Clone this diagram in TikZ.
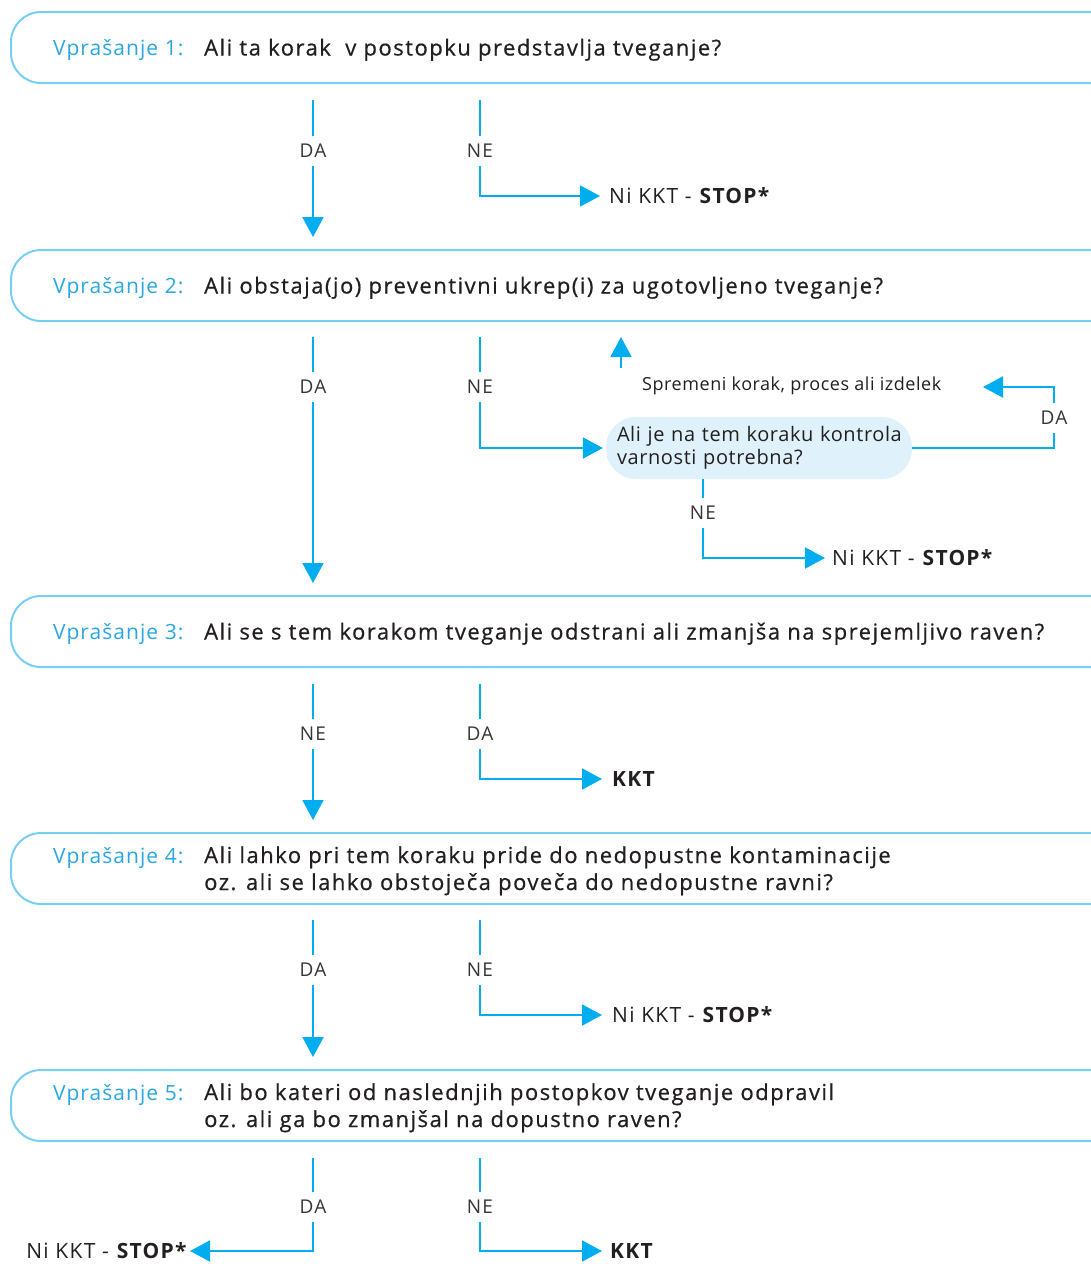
\documentclass[tikz,border=0pt]{standalone}
\usepackage{fontspec}
\setmainfont{Open Sans}
\newfontfamily\qfam[LetterSpace=6.8,FakeBold=0.6]{Open Sans}
\newfontfamily\numfam[LetterSpace=5]{Open Sans}
\newfontfamily\labfam[LetterSpace=6]{Open Sans}
\newfontfamily\chkfam[LetterSpace=3]{Open Sans}
\usetikzlibrary{arrows.meta,positioning,calc}
\definecolor{boxline}{HTML}{78CFF5}
\definecolor{flowblue}{HTML}{00AEEF}
\definecolor{numblue}{HTML}{2AA7E1}
\definecolor{txtgrey}{HTML}{231F20}
\definecolor{checkfill}{HTML}{DFF2FB}
\tikzset{
    qbox/.style={draw=boxline,line width=2pt,rounded corners=30pt,minimum width=1110pt,minimum height=71pt,anchor=west},
    qnum/.style={text=numblue,anchor=base west,font=\numfam\fontsize{21}{27}\selectfont},
    qtext/.style={text=txtgrey,anchor=base west,align=left,font=\qfam\fontsize{22}{27}\selectfont},
    flow/.style={draw=flowblue,line width=2pt},
    arr/.style={flow,-{Triangle[length=20pt,width=21pt]}},
    ans/.style={fill=white,text=txtgrey!90,inner xsep=2pt,inner ysep=8pt,font=\labfam\fontsize{19}{22}\selectfont},
    result/.style={text=txtgrey,anchor=west,font=\labfam\fontsize{21}{24}\selectfont},
    checkbox/.style={fill=checkfill,rounded corners=30pt,minimum height=62pt,inner xsep=11pt,text width=284pt,align=left,text=txtgrey,font=\chkfam\fontsize{20}{23}\selectfont}
}
\begin{document}
\begin{tikzpicture}[x=1pt,y=1pt]
    \tikzstyle{every node}+=[inner sep=0pt]
    \useasboundingbox (0,0) rectangle (1090,-1264);
    % questions
    \node[qbox] (q1) at (10,-47.5) {};
    \node[qnum] (q1n) at ($(q1.west)+(43,-8)$) {Vprašanje 1:};
    \node[qtext] (q1t) at ($(q1.west)+(194,-8)$) {Ali ta korak~ v postopku predstavlja tveganje?};
    \node[qbox] (q2) at (10,-285.5) {};
    \node[qnum] (q2n) at ($(q2.west)+(43,-8)$) {Vprašanje 2:};
    \node[qtext] (q2t) at ($(q2.west)+(194,-8)$) {Ali obstaja(jo) preventivni ukrep(i) za ugotovljeno tveganje?};
    \node[qbox] (q3) at (10,-631.5) {};
    \node[qnum] (q3n) at ($(q3.west)+(43,-8)$) {Vprašanje 3:};
    \node[qtext] (q3t) at ($(q3.west)+(194,-8)$) {Ali se s tem korakom tveganje odstrani ali zmanjša na sprejemljivo raven?};
    \node[qbox] (q4) at (10,-868.5) {};
    \node[qnum] (q4n) at ($(q4.west)+(43,5.5)$) {Vprašanje 4:};
    \node[qtext] (q4t) at ($(q4.west)+(194,-21.5)$) {Ali lahko pri tem koraku pride do nedopustne kontaminacije\\oz. ali se lahko obstoječa poveča do nedopustne ravni?};
    \node[qbox] (q5) at (10,-1105.5) {};
    \node[qnum] (q5n) at ($(q5.west)+(43,5.5)$) {Vprašanje 5:};
    \node[qtext] (q5t) at ($(q5.west)+(194,-21.5)$) {Ali bo kateri od naslednjih postopkov tveganje odpravil\\oz. ali ga bo zmanjšal na dopustno raven?};
    % question 1
    \coordinate (s1a) at (313,-100);
    \coordinate (s1b) at (480,-100);
    \node[ans] (da1) at (313,-151) {DA};
    \node[ans] (ne1) at (480,-151) {NE};
    \node[result] (stop1) at (609,-196) {Ni KKT - \textbf{STOP*}};
    \draw[flow] (s1a) -- (da1);
    \draw[arr,shorten >=12pt] (da1) -- (q2.north -| da1);
    \draw[flow] (s1b) -- (ne1);
    \draw[arr,shorten >=9pt] (ne1) |- (stop1.west);
    % question 2
    \coordinate (s2a) at (313,-337);
    \coordinate (s2b) at (480,-337);
    \node[ans] (da2) at (313,-387) {DA};
    \node[ans] (ne2) at (480,-387) {NE};
    \node[checkbox] (chk) at (759,-448) {Ali je na tem koraku kontrola\\varnosti potrebna?};
    \draw[flow] (s2a) -- (da2);
    \draw[arr,shorten >=12pt] (da2) -- (q3.north -| da2);
    \draw[flow] (s2b) -- (ne2);
    \draw[arr,shorten >=3pt] (ne2) |- (chk.west);
    % change step
    \node[text=txtgrey,anchor=west,font=\chkfam\fontsize{18}{20}\selectfont] (chg) at (642,-386) {Spremeni korak, proces ali izdelek};
    \coordinate (chgtip) at (983,-387);
    \coordinate (upfoot) at (621,-368);
    \draw[arr,shorten >=15pt] (upfoot) -- (q2.south -| upfoot);
    \node[ans] (da3) at (1054,-418) {DA};
    \draw[flow] (chk.east) -| (da3);
    \draw[arr] (da3) |- (chgtip);
    \coordinate (chkfoot) at (703,-479);
    \node[ans] (ne3) at (703,-513) {NE};
    \node[result] (stop2) at (832,-558) {Ni KKT - \textbf{STOP*}};
    \draw[flow] (chkfoot) -- (ne3);
    \draw[arr,shorten >=7pt] (ne3) |- (stop2.west);
    % question 3
    \coordinate (s3a) at (313,-684);
    \coordinate (s3b) at (480,-684);
    \node[ans] (ne4) at (313,-734) {NE};
    \node[ans] (da4) at (480,-734) {DA};
    \node[result] (kkt1) at (612,-779) {\textbf{KKT}};
    \draw[flow] (s3a) -- (ne4);
    \draw[arr,shorten >=12pt] (ne4) -- (q4.north -| ne4);
    \draw[flow] (s3b) -- (da4);
    \draw[arr,shorten >=10pt] (da4) |- (kkt1.west);
    % question 4
    \coordinate (s4a) at (313,-920);
    \coordinate (s4b) at (480,-920);
    \node[ans] (da5) at (313,-970) {DA};
    \node[ans] (ne5) at (480,-970) {NE};
    \node[result] (stop3) at (612,-1015) {Ni KKT - \textbf{STOP*}};
    \draw[flow] (s4a) -- (da5);
    \draw[arr,shorten >=12pt] (da5) -- (q5.north -| da5);
    \draw[flow] (s4b) -- (ne5);
    \draw[arr,shorten >=10pt] (ne5) |- (stop3.west);
    % question 5
    \coordinate (s5a) at (313,-1158);
    \coordinate (s5b) at (480,-1158);
    \node[ans] (da6) at (313,-1207) {DA};
    \node[ans] (ne6) at (480,-1207) {NE};
    \node[result,anchor=east] (stop4) at (188,-1251) {Ni KKT - \textbf{STOP*}};
    \node[result] (kkt2) at (610,-1251) {\textbf{KKT}};
    \draw[flow] (s5a) -- (da6);
    \draw[arr,shorten >=2pt] (da6) |- (stop4.east);
    \draw[flow] (s5b) -- (ne6);
    \draw[arr,shorten >=8pt] (ne6) |- (kkt2.west);
\end{tikzpicture}
\end{document}
